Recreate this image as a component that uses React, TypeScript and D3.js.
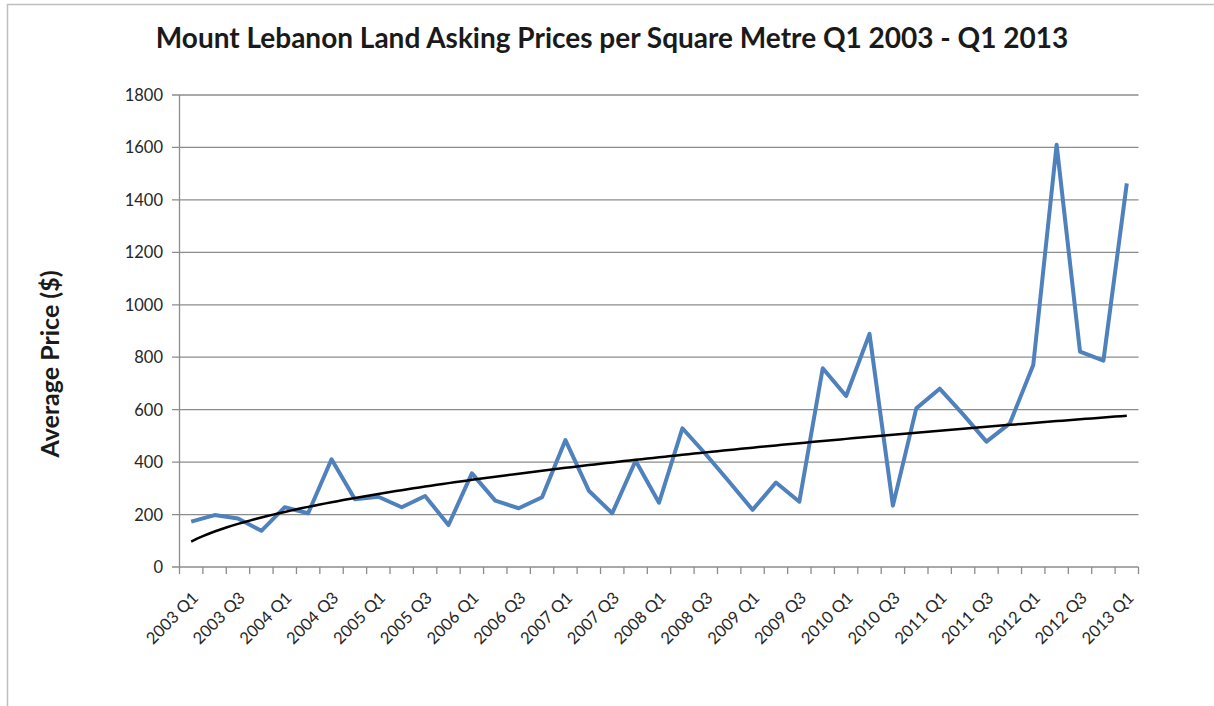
import React from "react";
import * as d3 from "d3";

const years = [2003, 2004, 2005, 2006, 2007, 2008, 2009, 2010, 2011, 2012, 2013];
const quarters = ["Q1", "Q2", "Q3", "Q4"];
const categories: string[] = [];
years.forEach((y) => quarters.forEach((q) => { if (y < 2013 || q === "Q1") categories.push(`${y} ${q}`); }));

const prices = [
  173, 198, 185, 138, 228, 205, 411, 258, 268, 228,
  271, 160, 357, 253, 224, 266, 484, 291, 205, 405,
  245, 529, 430, 325, 218, 322, 249, 758, 652, 889,
  234, 605, 680, 582, 478, 548, 770, 1610, 821, 787,
  1463,
];

const yTicks = [0, 200, 400, 600, 800, 1000, 1200, 1400, 1600, 1800];
const title = "Mount Lebanon Land Asking Prices per Square Metre Q1 2003 - Q1 2013";
const yTitle = "Average Price ($)";

const W = 1214, H = 706;
const left = 179.5, right = 1138.5, top = 95, bottom = 567;
const font = "Lato, 'Open Sans', sans-serif";

export default function App() {
  const x = d3.scaleBand<string>().domain(categories).range([left, right]).paddingInner(0).paddingOuter(0);
  const y = d3.scaleLinear().domain([0, 1800]).range([bottom, top]);
  const cx = (i: number) => (x(categories[i]) as number) + x.bandwidth() / 2;

  const line = d3.line<number>().x((_, i) => cx(i)).y((d) => y(d));

  // power trendline (least squares on ln x, ln y), as Excel does
  const lx = prices.map((_, i) => Math.log(i + 1));
  const ly = prices.map((v) => Math.log(v));
  const mx = d3.mean(lx) as number, my = d3.mean(ly) as number;
  const b = d3.sum(lx.map((v, i) => (v - mx) * (ly[i] - my))) / d3.sum(lx.map((v) => (v - mx) * (v - mx)));
  const a = Math.exp(my - b * mx);
  const tx = d3.range(0, 40.001, 0.25);
  const xi = d3.scaleLinear().domain([0, categories.length - 1]).range([cx(0), cx(categories.length - 1)]);
  const trend = d3.line<number>().x((t) => xi(t)).y((t) => y(a * Math.pow(t + 1, b)));

  const boundaries = d3.range(0, categories.length + 1).map((i) => left + i * x.bandwidth());

  return (
    <svg width={W} height={H} style={{ position: "absolute", left: 0, top: 0, background: "#fff" }}>
      <rect x={7.5} y={4.5} width={W + 10} height={H + 10} fill="#fff" stroke="#bfbfbf" strokeWidth={1.5} />
      <text x={612} y={48} textAnchor="middle" fontFamily={font} fontWeight={700} fontSize={28} fill="#1a1a1a">{title}</text>
      {yTicks.map((t) => (
        <g key={t}>
          <line x1={172} x2={right} y1={y(t)} y2={y(t)} stroke="#8c8c8c" strokeWidth={1.3} />
          <text x={163} y={y(t) + 6} textAnchor="end" fontFamily={font} fontSize={16.5} fill="#262626">{t}</text>
        </g>
      ))}
      <line x1={left} x2={left} y1={top} y2={bottom} stroke="#8c8c8c" strokeWidth={1.3} />
      {boundaries.map((bx, i) => (
        <line key={i} x1={bx} x2={bx} y1={bottom} y2={bottom + 7} stroke="#8c8c8c" strokeWidth={1.3} />
      ))}
      {categories.map((c, i) => i % 2 === 0 ? (
        <text key={c} transform={`translate(${cx(i) + 8},${bottom + 32}) rotate(-45)`} textAnchor="end" fontFamily={font} fontSize={16.5} fill="#262626">{c}</text>
      ) : null)}
      <text transform={`translate(59,364) rotate(-90)`} textAnchor="middle" fontFamily={font} fontWeight={700} fontSize={25} fill="#1a1a1a">{yTitle}</text>
      <path d={line(prices) as string} fill="none" stroke="#4f81bd" strokeWidth={4} strokeLinejoin="round" />
      <path d={trend(tx) as string} fill="none" stroke="#000" strokeWidth={2.5} />
    </svg>
  );
}
